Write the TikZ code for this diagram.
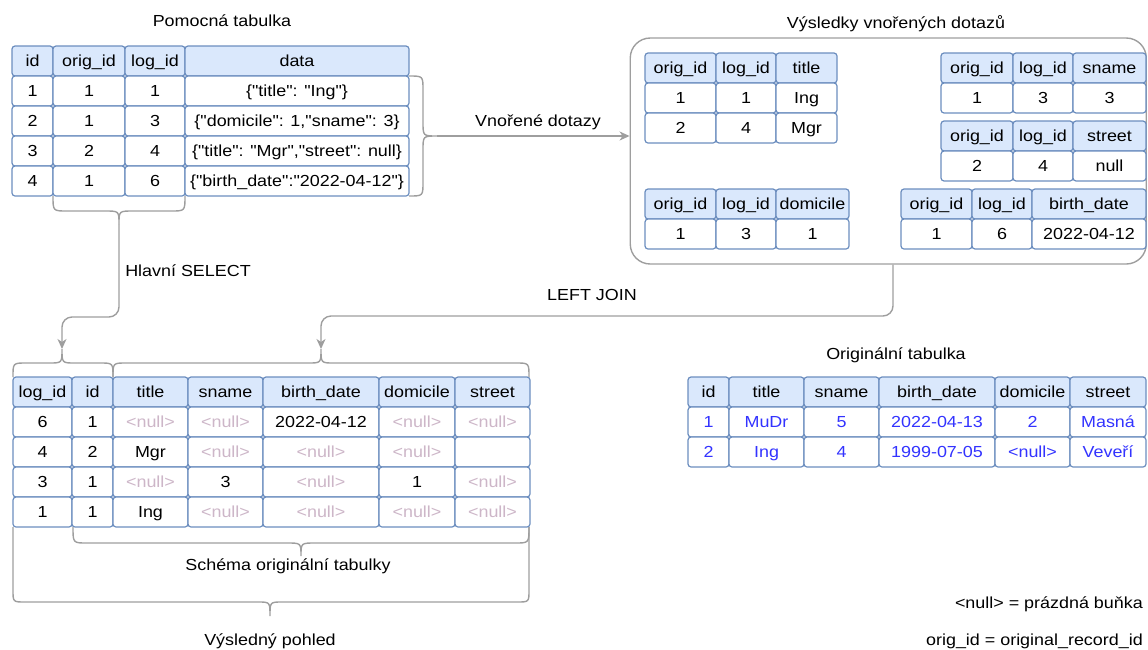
\documentclass[tikz,border=0pt]{standalone}
\usepackage{fontspec}
\setmainfont{Liberation Sans}[FakeStretch=1.12, Ligatures=TeXOff]
\usetikzlibrary{arrows.meta}
\definecolor{headf}{HTML}{DAE8FC}
\definecolor{cellb}{HTML}{6C8EBF}
\definecolor{linec}{HTML}{9E9E9E}
\definecolor{nullc}{HTML}{CDB6C8}
\definecolor{valb}{HTML}{3333FF}
\newcommand\nl{\textcolor{nullc}{<null>}}
% one table row: prefix, style, top y, bottom y, cell texts; column edges in \xs
\newcommand\cellrow[5]{%
  \foreach \ctext [count=\i from 0] in {#5}{%
    \pgfmathsetmacro\xa{\xs[\i]}%
    \pgfmathsetmacro\xb{\xs[\i+1]}%
    \pgfmathsetmacro\cw{\xb-\xa}%
    \pgfmathsetmacro\rh{#4-#3}%
    \pgfmathtruncatemacro\ci{\i+1}%
    \node[#2, minimum width=\cw pt, minimum height=\rh pt] (#1-\ci) at ({(\xa+\xb)/2},{(#3+#4)/2}) {\ctext};
  }}
\begin{document}
\begin{tikzpicture}[x=1pt,y=-1pt,
  font=\fontsize{16pt}{19pt}\selectfont,
  cell/.style={draw=cellb, fill=white, rounded corners=3pt, line width=1.2pt,
    inner sep=0pt, text height=11.5pt, text depth=0pt, align=center},
  head/.style={cell, fill=headf},
  val/.style={cell, text=valb},
  lbl/.style={inner sep=0pt, text height=11.5pt, text depth=0pt},
  brace/.style={draw=linec, line width=1.4pt},
  conn/.style={draw=linec, line width=1.4pt, -{Stealth[length=10pt,width=9pt,inset=3pt]}}]
\useasboundingbox (0,0) rectangle (1148,649);

% titles and labels
\node[lbl] (t1) at (222,21) {Pomocná tabulka};
\node[lbl] (t2) at (896,23) {Výsledky vnořených dotazů};
\node[lbl] (t3) at (896,354) {Originální tabulka};
\node[lbl] (l1) at (538,121) {Vnořené dotazy};
\node[lbl] (l2) at (188,271) {Hlavní SELECT};
\node[lbl] (l3) at (592,295) {LEFT JOIN};
\node[lbl] (l4) at (288,565) {Schéma originální tabulky};
\node[lbl] (l5) at (270,640) {Výsledný pohled};
\node[lbl, anchor=east] (g1) at (1143,603) {<null> = prázdná buňka};
\node[lbl, anchor=east] (g2) at (1143,640) {orig\_id = original\_record\_id};

% container of the sub-query results
\node[draw=linec, line width=1.4pt, rounded corners=20pt, inner sep=0pt,
  minimum width=516pt, minimum height=226pt] (grp) at (888.25,151) {};

% helper table
\def\xs{{12,53,125,185,409}}
\cellrow{p0}{head}{46}{76}{id,orig\_id,log\_id,data}
\cellrow{p1}{cell}{76}{106}{1,1,1,{\{"title": "Ing"\}}}
\cellrow{p2}{cell}{106}{136}{2,1,3,{\{"domicile": 1,"sname": 3\}}}
\cellrow{p3}{cell}{136}{166}{3,2,4,{\{"title": "Mgr","street": null\}}}
\cellrow{p4}{cell}{166}{196}{4,1,6,{\{"birth\_date":"2022-04-12"\}}}

% sub-query results
\def\xs{{645,716,776,837}}
\cellrow{a0}{head}{53}{83}{orig\_id,log\_id,title}
\cellrow{a1}{cell}{83}{113}{1,1,Ing}
\cellrow{a2}{cell}{113}{143}{2,4,Mgr}
\def\xs{{941,1013,1073,1146}}
\cellrow{b0}{head}{53}{83}{orig\_id,log\_id,sname}
\cellrow{b1}{cell}{83}{113}{1,3,3}
\cellrow{c0}{head}{121}{151}{orig\_id,log\_id,street}
\cellrow{c1}{cell}{151}{181}{2,4,null}
\def\xs{{645,716,776,849}}
\cellrow{d0}{head}{189}{219}{orig\_id,log\_id,domicile}
\cellrow{d1}{cell}{219}{249}{1,3,1}
\def\xs{{901,972,1032,1146}}
\cellrow{e0}{head}{189}{219}{orig\_id,log\_id,birth\_date}
\cellrow{e1}{cell}{219}{249}{1,6,2022-04-12}

% resulting view
\def\xs{{13,72,113,188,263,379,455,530}}
\cellrow{r0}{head}{377}{407}{log\_id,id,title,sname,birth\_date,domicile,street}
\cellrow{r1}{cell}{407}{437}{6,1,\nl,\nl,2022-04-12,\nl,\nl}
\cellrow{r2}{cell}{437}{467}{4,2,Mgr,\nl,\nl,\nl,\relax}
\cellrow{r3}{cell}{467}{497}{3,1,\nl,3,\nl,1,\nl}
\cellrow{r4}{cell}{497}{527}{1,1,Ing,\nl,\nl,\nl,\nl}

% original table
\def\xs{{688,729,804,879,995,1070,1146}}
\cellrow{o0}{head}{377}{407}{id,title,sname,birth\_date,domicile,street}
\cellrow{o1}{val}{407}{437}{1,MuDr,5,2022-04-13,2,Masná}
\cellrow{o2}{val}{437}{467}{2,Ing,4,1999-07-05,<null>,Veveří}

% braces
\draw[brace] (409,76) .. controls (423,76) .. (423,90) -- (423,122)
  .. controls (423,136) .. (437,136) .. controls (423,136) .. (423,150)
  -- (423,182) .. controls (423,196) .. (409,196);
\coordinate (tipR) at (437,136);
\draw[brace] (53,196) .. controls (53,211) .. (67,211) -- (105,211)
  .. controls (119,211) .. (119,224) .. controls (119,211) .. (133,211)
  -- (171,211) .. controls (185,211) .. (185,196);
\coordinate (tipB) at (119,224);
\draw[brace] (13,377) .. controls (13,363) .. (26,363) -- (49,363)
  .. controls (62,363) .. (62,349) .. controls (62,363) .. (75,363)
  -- (100,363) .. controls (113,363) .. (113,377);
\coordinate (tipL) at (62,349);
\draw[brace] (113,377) .. controls (113,363) .. (126,363) -- (308,363)
  .. controls (321,363) .. (321,349) .. controls (321,363) .. (334,363)
  -- (516,363) .. controls (529,363) .. (529,377);
\coordinate (tipJ) at (321,349);
\draw[brace] (73,527) .. controls (73,543) .. (87,543) -- (287,543)
  .. controls (301,543) .. (301,556) .. controls (301,543) .. (315,543)
  -- (515,543) .. controls (529,543) .. (529,527);
\draw[brace] (13,527) -- (13,590) .. controls (13,602) .. (25,602) -- (258,602)
  .. controls (270,602) .. (270,616) .. controls (270,602) .. (282,602)
  -- (517,602) .. controls (529,602) .. (529,590) -- (529,527);

% connectors
\draw[conn] (tipR) -- (tipR -| grp.west);
\draw[conn, rounded corners=10pt] (tipB) -- (119,317) -- (62,317) -- (tipL);
\draw[conn, rounded corners=10pt] ([xshift=4.75pt]grp.south) -- (893,316) -- (321,316) -- (tipJ);
\end{tikzpicture}
\end{document}
